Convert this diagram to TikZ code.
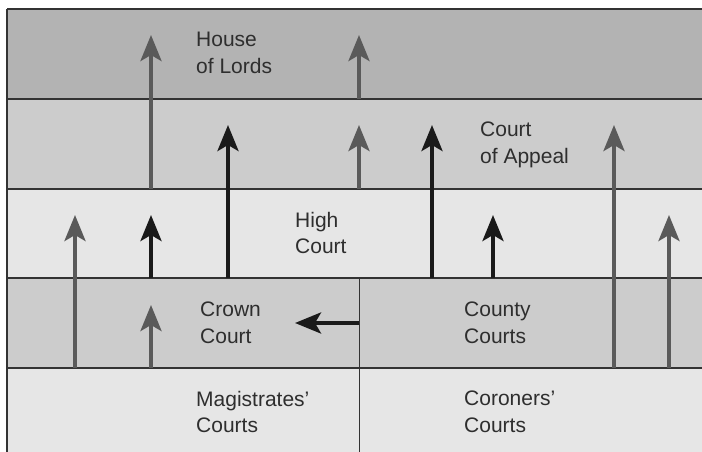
\documentclass[tikz,border=0pt]{standalone}
\usepackage{fontspec}
\setmainfont{Liberation Sans}
\usetikzlibrary{arrows.meta}
\definecolor{bandA}{HTML}{B3B3B3}
\definecolor{bandB}{HTML}{CCCCCC}
\definecolor{bandC}{HTML}{E6E6E6}
\definecolor{grayarr}{HTML}{5A5A5A}
\definecolor{blackarr}{HTML}{1A1A1A}
\definecolor{linecol}{HTML}{333333}
\definecolor{textcol}{HTML}{2E2E2E}
\tikzset{
  x=1pt,y=-1pt,
  rule/.style={draw=linecol,line width=1.4pt},
  garrow/.style={draw=grayarr,line width=4pt,-{Stealth[length=26pt,width=21pt,inset=6pt]}},
  barrow/.style={draw=blackarr,line width=4pt,-{Stealth[length=26pt,width=21pt,inset=6pt]}},
  label/.style={anchor=north west,inner sep=0pt,align=left,text=textcol,
    font=\fontsize{21}{26.5}\selectfont}
}
\begin{document}
\begin{tikzpicture}
\useasboundingbox (0,0) rectangle (702,452);
% bands
\fill[white] (0,0) rectangle (702,452);
\fill[bandA] (7,9) rectangle (702,99);
\fill[bandB] (7,99) rectangle (702,189);
\fill[bandC] (7,189) rectangle (702,278);
\fill[bandB] (7,278) rectangle (702,368);
\fill[bandC] (7,368) rectangle (702,452);
% rules
\draw[rule] (7,9) -- (702,9);
\draw[rule] (7,99) -- (702,99);
\draw[rule] (7,189) -- (702,189);
\draw[rule] (7,278) -- (702,278);
\draw[rule] (7,368) -- (702,368);
\draw[rule] (7,9) -- (7,452);
\draw[rule,line width=1pt] (359,278) -- (359,452);
% coordinates
\coordinate (a1s) at (151,189); \coordinate (a1e) at (151,35);
\coordinate (a2s) at (359,99);  \coordinate (a2e) at (359,35);
\coordinate (a3s) at (359,189); \coordinate (a3e) at (359,125);
\coordinate (a4s) at (228,278); \coordinate (a4e) at (228,125);
\coordinate (a5s) at (432,278); \coordinate (a5e) at (432,125);
\coordinate (a6s) at (614,368); \coordinate (a6e) at (614,125);
\coordinate (a7s) at (75,368);  \coordinate (a7e) at (75,215);
\coordinate (a8s) at (151,278); \coordinate (a8e) at (151,215);
\coordinate (a9s) at (151,368); \coordinate (a9e) at (151,305);
\coordinate (a10s) at (493,278); \coordinate (a10e) at (493,215);
\coordinate (a11s) at (669,368); \coordinate (a11e) at (669,215);
\coordinate (h1s) at (359,323); \coordinate (h1e) at (295,323);
% arrows
\draw[garrow] (a1s) -- (a1e);
\draw[garrow] (a2s) -- (a2e);
\draw[garrow] (a3s) -- (a3e);
\draw[barrow] (a4s) -- (a4e);
\draw[barrow] (a5s) -- (a5e);
\draw[garrow] (a6s) -- (a6e);
\draw[garrow] (a7s) -- (a7e);
\draw[barrow] (a8s) -- (a8e);
\draw[garrow] (a9s) -- (a9e);
\draw[barrow] (a10s) -- (a10e);
\draw[garrow] (a11s) -- (a11e);
\draw[barrow] (h1s) -- (h1e);
% labels
\node[label] (lords) at (196,32) {House\\of Lords};
\node[label] (appeal) at (480,122) {Court\\of Appeal};
\node[label] (high) at (295,212) {High\\Court};
\node[label] (crown) at (200,302) {Crown\\Court};
\node[label] (county) at (464,302) {County\\Courts};
\node[label] (mag) at (196,391) {Magistrates’\\Courts};
\node[label] (cor) at (464,391) {Coroners’\\Courts};
\end{tikzpicture}
\end{document}
